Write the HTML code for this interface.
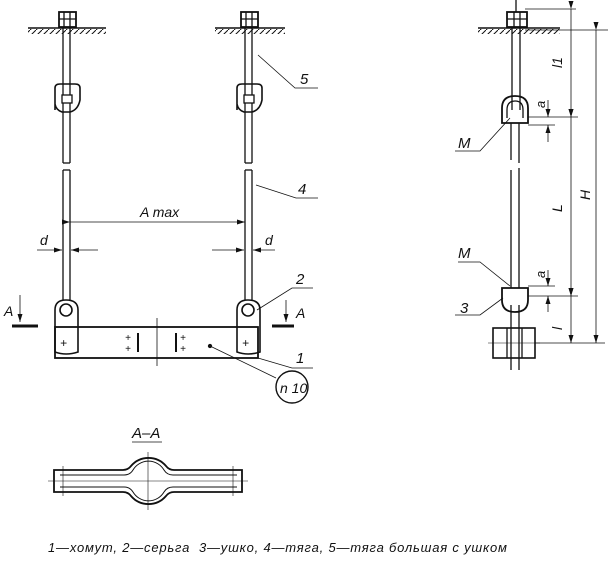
<!DOCTYPE html>
<html><head><meta charset="utf-8"><style>
body{margin:0;background:#fff;width:612px;height:562px;overflow:hidden}
svg{display:block}
text{font-family:"Liberation Sans",sans-serif;font-style:italic;fill:#111;stroke:none}
</style></head><body>
<svg width="612" height="562" viewBox="0 0 612 562" stroke="#111" fill="none" stroke-width="1.3">
<defs>
<marker id="ar" markerWidth="8" markerHeight="6" refX="8" refY="3" orient="auto" markerUnits="userSpaceOnUse"><path d="M0,0.5 L8,3 L0,5.5" fill="#111" stroke="none"/></marker>
<pattern id="h" width="6" height="6" patternUnits="userSpaceOnUse"><path d="M6,0 L0,6" stroke="#111" stroke-width="1"/></pattern>
</defs>
<!-- LEFT hanger -->
<g>
<line x1="28" y1="28" x2="106" y2="28" stroke-width="1.6"/>
<rect x="28" y="29" width="78" height="5" fill="url(#h)" stroke="none"/>
<rect x="59" y="12" width="17" height="15" stroke-width="1.8"/><line x1="59" y1="19" x2="76" y2="19"/><line x1="64" y1="12" x2="64" y2="27"/><line x1="70" y1="12" x2="70" y2="27"/>
<line x1="63" y1="28" x2="63" y2="95"/><line x1="70" y1="28" x2="70" y2="95"/>
<path d="M55,110 L55,88 Q55,84 60,84 L75,84 Q80,84 80,88 L80,100 Q78,110 70,112 L62,112 Q56,110 55,104" stroke-width="1.6"/>
<rect x="62" y="95" width="10" height="8"/>
<line x1="63" y1="103" x2="63" y2="163"/><line x1="70" y1="103" x2="70" y2="163"/><line x1="63" y1="163" x2="70" y2="163"/>
<line x1="63" y1="170" x2="63" y2="300"/><line x1="70" y1="170" x2="70" y2="300"/><line x1="63" y1="170" x2="70" y2="170"/>
<path d="M55,310 Q55,300 66,300 Q78,300 78,310 L78,352 Q66,356 55,352 Z" stroke-width="1.6"/>
<circle cx="66" cy="310" r="6" stroke-width="1.6"/>
</g>
<!-- RIGHT hanger -->
<g>
<line x1="215" y1="28" x2="285" y2="28" stroke-width="1.6"/>
<rect x="215" y="29" width="70" height="5" fill="url(#h)" stroke="none"/>
<rect x="241" y="12" width="17" height="15" stroke-width="1.8"/><line x1="241" y1="19" x2="258" y2="19"/><line x1="246" y1="12" x2="246" y2="27"/><line x1="252" y1="12" x2="252" y2="27"/>
<line x1="245" y1="28" x2="245" y2="95"/><line x1="252" y1="28" x2="252" y2="95"/>
<path d="M237,110 L237,88 Q237,84 242,84 L257,84 Q262,84 262,88 L262,100 Q260,110 252,112 L244,112 Q238,110 237,104" stroke-width="1.6"/>
<rect x="244" y="95" width="10" height="8"/>
<line x1="245" y1="103" x2="245" y2="163"/><line x1="252" y1="103" x2="252" y2="163"/><line x1="245" y1="163" x2="252" y2="163"/>
<line x1="245" y1="170" x2="245" y2="300"/><line x1="252" y1="170" x2="252" y2="300"/><line x1="245" y1="170" x2="252" y2="170"/>
<path d="M237,310 Q237,300 248,300 Q260,300 260,310 L260,352 Q248,356 237,352 Z" stroke-width="1.6"/>
<circle cx="248" cy="310" r="6" stroke-width="1.6"/>
</g>
<!-- bar -->
<rect x="55" y="327" width="203" height="31" stroke-width="1.8"/>
<line x1="157" y1="318" x2="157" y2="366" stroke-width="0.8"/>
<text x="60" y="347" font-size="12" font-style="normal">+</text><text x="242" y="347" font-size="12" font-style="normal">+</text>
<text x="125" y="341" font-size="10" font-style="normal">+</text><text x="125" y="352" font-size="10" font-style="normal">+</text>
<line x1="138" y1="333" x2="138" y2="352" stroke-width="2"/>
<line x1="176" y1="333" x2="176" y2="352" stroke-width="2"/>
<text x="180" y="341" font-size="10" font-style="normal">+</text><text x="180" y="352" font-size="10" font-style="normal">+</text>
<!-- leaders left view -->
<polyline points="258,55 295,88 318,88" stroke-width="0.8"/><text x="300" y="84" font-size="15">5</text>
<polyline points="256,185 296,198 318,198" stroke-width="0.8"/><text x="298" y="194" font-size="15">4</text>
<polyline points="257,310 292,288 313,288" stroke-width="0.8"/><text x="296" y="284" font-size="15">2</text>
<polyline points="258,358 292,368 313,368" stroke-width="0.8"/><text x="296" y="363" font-size="15">1</text>
<line x1="210" y1="346" x2="276" y2="378" stroke-width="0.8"/><circle cx="210" cy="346" r="1.5" fill="#111"/>
<circle cx="292" cy="387" r="16" stroke-width="1.4"/><text x="280" y="393" font-size="14">n 10</text>
<!-- Amax -->
<line x1="70" y1="222" x2="245" y2="222" stroke-width="0.8" marker-start="url(#ar)" marker-end="url(#ar)"/>
<text x="140" y="217" font-size="14">A max</text>
<!-- d -->
<line x1="37" y1="250" x2="62" y2="250" stroke-width="0.8" marker-end="url(#ar)"/><line x1="98" y1="250" x2="71" y2="250" stroke-width="0.8" marker-end="url(#ar)"/>
<text x="40" y="245" font-size="14">d</text>
<line x1="212" y1="250" x2="244" y2="250" stroke-width="0.8" marker-end="url(#ar)"/><line x1="275" y1="250" x2="253" y2="250" stroke-width="0.8" marker-end="url(#ar)"/>
<text x="265" y="245" font-size="14">d</text>
<!-- A section marks -->
<text x="4" y="316" font-size="14">A</text>
<line x1="20" y1="295" x2="20" y2="322" stroke-width="0.8" marker-end="url(#ar)"/><line x1="12" y1="326" x2="38" y2="326" stroke-width="3"/>
<text x="296" y="318" font-size="14">A</text>
<line x1="286" y1="300" x2="286" y2="322" stroke-width="0.8" marker-end="url(#ar)"/><line x1="272" y1="326" x2="294" y2="326" stroke-width="3"/>
<!-- Section A-A -->
<text x="132" y="438" font-size="15">A–A</text><line x1="132" y1="442" x2="162" y2="442" stroke-width="0.8"/>
<path d="M54,470 L123,470 Q128,470 131,466 A23,23 0 0 1 166,466 Q169,470 174,470 L242,470 L242,492 L174,492 Q169,492 166,496 A23,23 0 0 1 131,496 Q128,492 123,492 L54,492 Z" stroke-width="1.8"/>
<path d="M60,475 L124,475 Q130,475 133,470 A18,18 0 0 1 164,470 Q167,475 173,475 L237,475 M60,487 L124,487 Q130,487 133,492 A18,18 0 0 0 164,492 Q167,487 173,487 L237,487" stroke-width="1"/>
<line x1="48" y1="481" x2="248" y2="481" stroke-width="0.6"/><line x1="148" y1="452" x2="148" y2="510" stroke-width="0.6"/>
<line x1="63" y1="466" x2="63" y2="496" stroke-width="0.6"/><line x1="233" y1="466" x2="233" y2="496" stroke-width="0.6"/>
<!-- RIGHT side view -->
<line x1="478" y1="28" x2="560" y2="28" stroke-width="1.6"/>
<rect x="478" y="29" width="82" height="5" fill="url(#h)" stroke="none"/>
<rect x="507" y="12" width="20" height="15" stroke-width="1.8"/><line x1="507" y1="19" x2="527" y2="19"/><line x1="514" y1="12" x2="514" y2="27"/><line x1="520" y1="12" x2="520" y2="27"/>
<line x1="516" y1="0" x2="516" y2="12"/>
<line x1="512" y1="28" x2="512" y2="110"/><line x1="520" y1="28" x2="520" y2="110"/>
<path d="M502,123 L502,108 Q502,96 515,96 Q528,96 528,108 L528,123 Z" stroke-width="1.8"/>
<path d="M507,118 L507,110 Q507,101 515,101 Q523,101 523,110 L523,118"/>
<line x1="511" y1="123" x2="511" y2="160"/><line x1="519" y1="123" x2="519" y2="163"/>
<line x1="511" y1="170" x2="511" y2="288"/><line x1="519" y1="168" x2="519" y2="288"/>
<path d="M502,288 L528,288 L528,300 Q528,312 515,312 Q502,312 502,300 Z" stroke-width="1.8"/>
<line x1="511" y1="305" x2="511" y2="370"/><line x1="519" y1="305" x2="519" y2="370"/>
<rect x="493" y="328" width="42" height="30" stroke-width="1.6"/><line x1="507" y1="328" x2="507" y2="358"/><line x1="522" y1="328" x2="522" y2="358"/>
<line x1="488" y1="343" x2="540" y2="343" stroke-width="0.6"/>
<!-- dims -->
<g stroke-width="0.8">
<line x1="525" y1="9" x2="576" y2="9"/><line x1="525" y1="30" x2="608" y2="30"/>
<line x1="528" y1="117" x2="578" y2="117"/><line x1="528" y1="125" x2="555" y2="125"/>
<line x1="528" y1="286" x2="555" y2="286"/><line x1="528" y1="296" x2="578" y2="296"/>
<line x1="535" y1="343" x2="605" y2="343"/>
<line x1="571" y1="9" x2="571" y2="117" marker-start="url(#ar)" marker-end="url(#ar)"/>
<line x1="571" y1="117" x2="571" y2="296" marker-start="url(#ar)" marker-end="url(#ar)"/>
<line x1="571" y1="296" x2="571" y2="343" marker-start="url(#ar)" marker-end="url(#ar)"/>
<line x1="596" y1="30" x2="596" y2="343" marker-start="url(#ar)" marker-end="url(#ar)"/>
<line x1="548" y1="100" x2="548" y2="117" marker-end="url(#ar)"/><line x1="548" y1="142" x2="548" y2="125" marker-end="url(#ar)"/>
<line x1="548" y1="270" x2="548" y2="286" marker-end="url(#ar)"/><line x1="548" y1="312" x2="548" y2="296" marker-end="url(#ar)"/>
<polyline points="510,118 480,151 455,151"/>
<polyline points="510,286 480,262 458,262"/>
<polyline points="503,298 480,315 455,315"/>
</g>
<text font-size="14" transform="translate(562,68) rotate(-90)">l1</text>
<text font-size="14" transform="translate(562,212) rotate(-90)">L</text>
<text font-size="14" transform="translate(562,330) rotate(-90)">l</text>
<text font-size="14" transform="translate(590,200) rotate(-90)">H</text>
<text font-size="13" transform="translate(545,108) rotate(-90)">a</text>
<text font-size="13" transform="translate(545,278) rotate(-90)">a</text>
<text x="458" y="148" font-size="15">M</text>
<text x="458" y="258" font-size="15">M</text>
<text x="460" y="313" font-size="15">3</text>
<!-- caption -->
<text x="48" y="552" font-size="13" font-style="normal" font-family="Liberation Serif, serif" letter-spacing="0.8" xml:space="preserve"><tspan font-style="italic">1</tspan>—хомут, <tspan font-style="italic">2</tspan>—серьга  <tspan font-style="italic">3</tspan>—ушко, <tspan font-style="italic">4</tspan>—тяга, <tspan font-style="italic">5</tspan>—тяга большая с ушком</text>
</svg>
</body></html>
